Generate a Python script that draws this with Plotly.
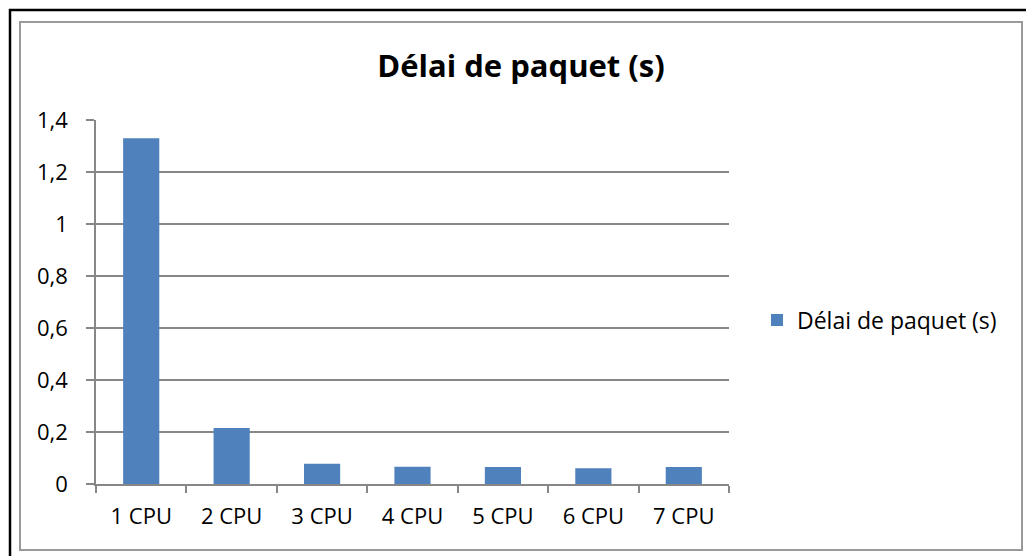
import plotly.graph_objects as go

categories = ["1 CPU", "2 CPU", "3 CPU", "4 CPU", "5 CPU", "6 CPU", "7 CPU"]
delai = [1.33, 0.215, 0.078, 0.066, 0.065, 0.061, 0.065]
series_name = "Délai de paquet (s)"
title_text = "Délai de paquet (s)"
y_ticks = [0, 0.2, 0.4, 0.6, 0.8, 1.0, 1.2, 1.4]

W, H = 1026, 556
L, R, T, B = 96, 729, 120, 484
pw, ph = R - L, B - T

def px(x):
    return (x - L) / pw

def py(y):
    return (B - y) / ph

FONT = "Open Sans"
GRID = "#878787"

fig = go.Figure()
fig.add_trace(go.Bar(
    x=categories, y=delai, name=series_name,
    marker=dict(color="#4F81BD", line=dict(width=0)),
    showlegend=True,
))

fig.update_layout(
    width=W, height=H,
    margin=dict(l=L, r=W - R, t=T, b=H - B, pad=0),
    paper_bgcolor="white", plot_bgcolor="white",
    separators=", ",
    bargap=0.6,
    font=dict(family=FONT, size=22, color="black"),
    title=dict(text="<b>" + title_text + "</b>", x=px(521), xref="paper", xanchor="center",
               y=1 - 66 / H, yref="container", yanchor="middle",
               font=dict(family=FONT, size=31, color="black")),
    showlegend=True,
    legend=dict(x=px(757), y=py(320), xanchor="left", yanchor="middle",
                font=dict(family=FONT, size=23, color="black"),
                bgcolor="rgba(0,0,0,0)", borderwidth=0),
    xaxis=dict(showgrid=False, showline=True, linecolor=GRID, linewidth=1.5,
               ticks="outside", tickson="boundaries", ticklen=7, tickwidth=1.5, tickcolor=GRID,
               ticklabelstandoff=12, tickfont=dict(family=FONT, size=22, color="black")),
    yaxis=dict(range=[0, 1.4], tickvals=y_ticks, showgrid=True, gridcolor=GRID, gridwidth=1.5,
               showline=True, linecolor=GRID, linewidth=1.5, zeroline=False,
               ticks="outside", ticklen=8, tickwidth=1.5, tickcolor=GRID,
               ticklabelstandoff=14, tickfont=dict(family=FONT, size=22, color="black")),
)

# outer black frame and inner gray chart border
fig.add_shape(type="rect", xref="paper", yref="paper",
              x0=px(10), y0=py(10), x1=px(1040), y1=py(570),
              line=dict(color="black", width=2.5), fillcolor="rgba(0,0,0,0)", layer="below")
fig.add_shape(type="rect", xref="paper", yref="paper",
              x0=px(20), y0=py(22), x1=px(1022), y1=py(550),
              line=dict(color="#9a9a9a", width=2), fillcolor="rgba(0,0,0,0)", layer="below")

fig.write_html("out.html",
               config={"displayModeBar": False},
               post_script="document.body.style.margin='0';document.body.style.overflow='hidden';")
